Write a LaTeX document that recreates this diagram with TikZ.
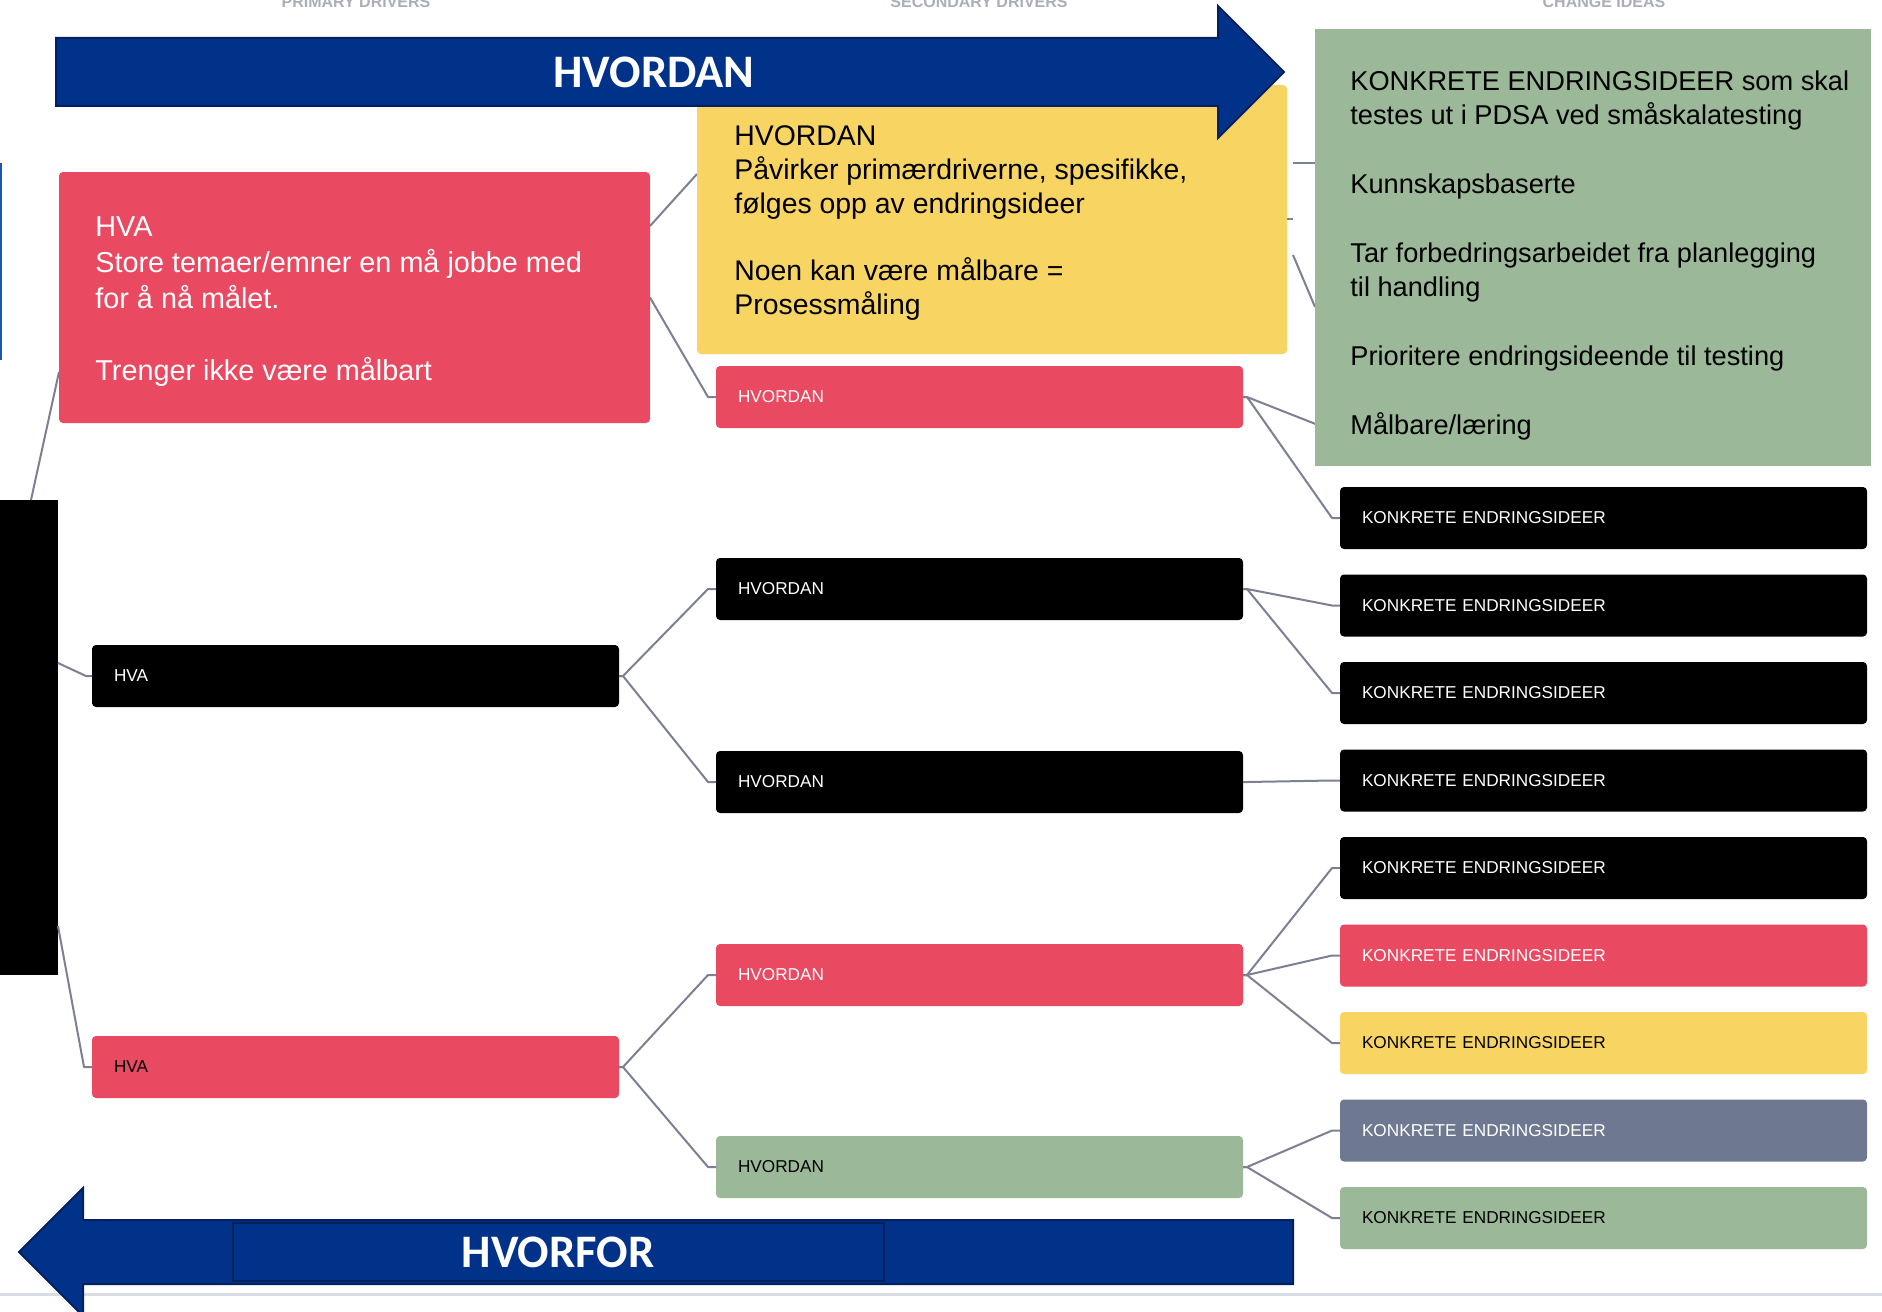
\documentclass[tikz,border=0pt]{standalone}
\usepackage{fontspec}
\setmainfont{Liberation Sans}
\newfontfamily\headfont{Carlito}
\usetikzlibrary{calc}

\definecolor{navy}{HTML}{003289}
\definecolor{navyedge}{HTML}{00205F}
\definecolor{drvred}{HTML}{E94961}
\definecolor{drvyellow}{HTML}{F8D563}
\definecolor{drvgreen}{HTML}{9BB998}
\definecolor{drvslate}{HTML}{6E7891}
\definecolor{connector}{HTML}{7D8092}
\definecolor{labelgray}{HTML}{A9AEB8}
\definecolor{edgeblue}{HTML}{2456A8}
\definecolor{rulegray}{HTML}{D8DDE4}

\tikzset{
  box/.style={rectangle, rounded corners=2pt, anchor=north west, inner sep=0pt, outer sep=0pt},
  cell/.style={box, inner xsep=11pt, minimum width=263.5pt, minimum height=31pt,
    text width=241.5pt, align=left, font=\fontsize{8.6}{10}\selectfont},
  darkcell/.style={cell, fill=black, text=white},
  redcell/.style={cell, fill=drvred, text=white},
  yellowcell/.style={cell, fill=drvyellow, text=black},
  greencell/.style={cell, fill=drvgreen, text=black},
  slatecell/.style={cell, fill=drvslate, text=white},
  notetext/.style={anchor=west, align=left, inner sep=0pt},
  conn/.style={draw=connector, line width=1pt, line join=round},
  colhead/.style={anchor=base, text=labelgray, font=\bfseries\fontsize{8}{9}\selectfont},
  bigarrow/.style={fill=navy, draw=navyedge, line width=1pt},
  arrowtext/.style={text=white, inner sep=0pt, font=\headfont\bfseries\fontsize{23.3}{28}\selectfont}
}

\newcommand\drvlink[2]{\draw[conn] (#1.east) -- ++(4,0) -- ($(#2.west)+(-8,0)$) -- (#2.west);}

\begin{document}
\begin{tikzpicture}[x=0.5pt,y=-0.5pt]
\clip (0,0) rectangle (1882,1311);
\fill[white] (0,0) rectangle (1882,1311);

% column headings (partly above the page edge)
\node[colhead] (hd-primary) at (356,7.5) {PRIMARY DRIVERS};
\node[colhead] (hd-secondary) at (979,7.5) {SECONDARY DRIVERS};
\node[colhead] (hd-change) at (1604,7.5) {CHANGE IDEAS};

% footer rule and left edge mark
\draw[rulegray, line width=1.5pt] (0,1294) -- (1882,1294);
\draw[edgeblue, line width=1pt] (1,163) -- (1,360);

% root bar
\node[box, fill=black, rounded corners=0pt, minimum width=29pt, minimum height=237.5pt] (root) at (0,500) {};

% primary drivers
\node[darkcell] (hva1) at (92,645) {HVA};
\node[cell, fill=drvred, text=black] (hva2) at (92,1036) {HVA};

% secondary drivers
\node[redcell] (sec1) at (716,366) {HVORDAN};
\node[darkcell] (sec2) at (716,558) {HVORDAN};
\node[darkcell] (sec3) at (716,751) {HVORDAN};
\node[redcell] (sec4) at (716,944) {HVORDAN};
\node[greencell] (sec5) at (716,1136) {HVORDAN};

% change ideas
\node[darkcell] (ke1) at (1340,487) {KONKRETE ENDRINGSIDEER};
\node[darkcell] (ke2) at (1340,574.5) {KONKRETE ENDRINGSIDEER};
\node[darkcell] (ke3) at (1340,662) {KONKRETE ENDRINGSIDEER};
\node[darkcell] (ke4) at (1340,749.5) {KONKRETE ENDRINGSIDEER};
\node[darkcell] (ke5) at (1340,837) {KONKRETE ENDRINGSIDEER};
\node[redcell] (ke6) at (1340,924.5) {KONKRETE ENDRINGSIDEER};
\node[yellowcell] (ke7) at (1340,1012) {KONKRETE ENDRINGSIDEER};
\node[slatecell] (ke8) at (1340,1099.5) {KONKRETE ENDRINGSIDEER};
\node[greencell] (ke9) at (1340,1187) {KONKRETE ENDRINGSIDEER};

% free ends of connectors that run under the note cards
\coordinate (bar-top) at (31,500);
\coordinate (bar-mid) at (58,663);
\coordinate (bar-low) at (58,926);
\coordinate (note-pd) at (59,372);
\coordinate (pd-out) at (650,226);
\coordinate (sd-in) at (697,174);
\coordinate (ke0-in) at (1340,430.5);
\coordinate (stubA1) at (1293,163);
\coordinate (stubA2) at (1315,163);
\coordinate (stubB1) at (1287,219);
\coordinate (stubB2) at (1293,219);
\coordinate (stubC1) at (1293,255);
\coordinate (stubC2) at (1315,307);

% connectors
\draw[conn] (bar-top) -- (note-pd);
\draw[conn] (bar-mid) -- ($(hva1.west)+(-6,0)$) -- (hva1.west);
\draw[conn] (bar-low) -- ($(hva2.west)+(-8,0)$) -- (hva2.west);
\draw[conn] (pd-out) -- (sd-in);
\draw[conn] (650,297.5) -- ($(sec1.west)+(-8,0)$) -- (sec1.west);
\drvlink{hva1}{sec2}
\drvlink{hva1}{sec3}
\drvlink{hva2}{sec4}
\drvlink{hva2}{sec5}
\drvlink{sec1}{ke1}
\draw[conn] (sec1.east) -- ++(4,0) -- ($(ke0-in)+(-8,0)$) -- (ke0-in);
\drvlink{sec2}{ke2}
\drvlink{sec2}{ke3}
\drvlink{sec3}{ke4}
\drvlink{sec4}{ke5}
\drvlink{sec4}{ke6}
\drvlink{sec4}{ke7}
\drvlink{sec5}{ke8}
\drvlink{sec5}{ke9}
\draw[conn] (stubA1) -- (stubA2);
\draw[conn] (stubB1) -- (stubB2);
\draw[conn] (stubC1) -- (stubC2);

% note cards
\node[box, fill=drvred, minimum width=295.5pt, minimum height=125.5pt] (bigred) at (59,172) {};
\node[notetext, text=white, font=\fontsize{14.4}{18}\selectfont] (bigred-txt) at ($(bigred.west)+(36,4)$)
  {HVA\\Store temaer/emner en må jobbe med\\for å nå målet.\\[18pt]Trenger ikke være målbart};

\node[box, fill=drvyellow, minimum width=295pt, minimum height=134.5pt] (yellow) at (697,85) {};
\node[notetext, text=black, font=\fontsize{14.2}{17}\selectfont] (yellow-txt) at ($(yellow.west)+(37,4)$)
  {HVORDAN\\Påvirker primærdriverne, spesifikke,\\følges opp av endringsideer\\[16.5pt]Noen kan være målbare =\\Prosessmåling};

\node[box, fill=drvgreen, rounded corners=0pt, minimum width=278pt, minimum height=218.5pt] (green) at (1315,29) {};
\node[notetext, text=black, font=\fontsize{13.6}{17}\selectfont] (green-txt) at ($(green.west)+(35,8)$)
  {KONKRETE ENDRINGSIDEER som skal\\testes ut i PDSA ved småskalatesting\\[17.5pt]Kunnskapsbaserte\\[17.5pt]Tar forbedringsarbeidet fra planlegging\\til handling\\[17.5pt]Prioritere endringsideende til testing\\[17.5pt]Målbare/læring};

% direction arrows
\filldraw[bigarrow] (56,38) -- (1218,38) -- (1218,6) -- (1284,72) -- (1218,138) -- (1218,106) -- (56,106) -- cycle;
\node[arrowtext] (how-lbl) at (654,72) {HVORDAN};

\filldraw[bigarrow] (1293,1220) -- (83,1220) -- (83,1188) -- (19,1252) -- (83,1316) -- (83,1284) -- (1293,1284) -- cycle;
\draw[navyedge, line width=0.8pt] (233,1223) rectangle (884,1281);
\node[arrowtext] (why-lbl) at (558,1252) {HVORFOR};
\end{tikzpicture}
\end{document}
